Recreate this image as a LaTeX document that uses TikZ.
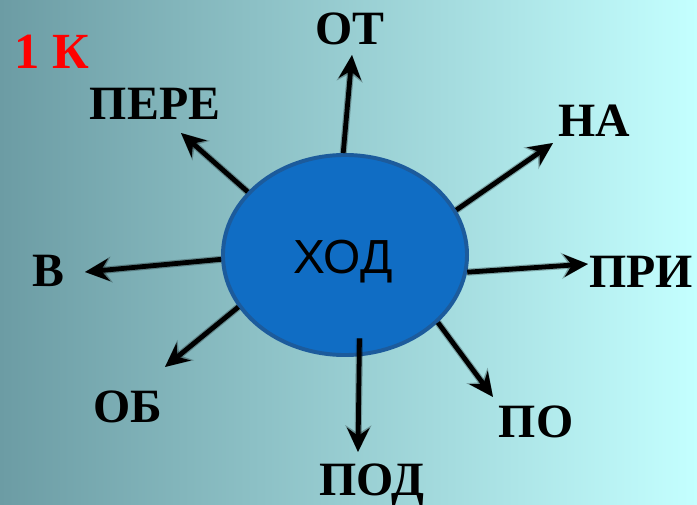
\documentclass[tikz,border=0pt]{standalone}
\usepackage{fontspec}
\setmainfont{Liberation Serif}
\newfontfamily\hodfont{Liberation Sans}
\usetikzlibrary{arrows.meta,shapes.geometric}

\definecolor{bgleft}{HTML}{6C9CA4}
\definecolor{bgright}{HTML}{C4FFFF}
\definecolor{hodfill}{HTML}{106DC4}
\definecolor{hodline}{HTML}{1C5B9C}

\tikzset{
	lbl/.style={font=\bfseries\fontsize{34}{34}\selectfont, anchor=base, inner sep=0pt},
	arr/.style={line width=3.4pt, -{Stealth[length=6mm,width=5.6mm,inset=2mm]}},
	shd/.style={line width=5pt, black, opacity=0.15, -{Stealth[length=6.6mm,width=6.4mm,inset=2mm]}}
}

\begin{document}
\begin{tikzpicture}[x=0.025cm,y=-0.025cm]
		
		\fill[left color=bgleft, right color=bgright] (0,0) rectangle (697,505);
		\useasboundingbox (0,0) rectangle (697,505);
		
		\node[ellipse, draw=hodline, line width=2.8pt, fill=hodfill, minimum width=61mm, minimum height=50mm] (hod) at (345,255) {};
		\node[font=\hodfont\fontsize{34}{34}\selectfont, anchor=base, inner sep=0pt] (hodtxt) at (343,273) {ХОД};
		
		\node[lbl, text=red, font=\bfseries\fontsize{36}{36}\selectfont] (k1) at (52,69) {1 К};
		
		\node[lbl] (ot) at (350,45) {ОТ};
		\node[lbl] (na) at (594,137) {НА};
		\node[lbl] (pri) at (641,287) {ПРИ};
		\node[lbl] (po) at (536,437) {ПО};
		\node[lbl] (pod) at (372,495) {ПОД};
		\node[lbl] (ob) at (128,422) {ОБ};
		\node[lbl] (v) at (48,286) {В};
		\node[lbl] (pere) at (155,120) {ПЕРЕ};
		
		\coordinate (tot) at (352,55);
		\coordinate (tna) at (553,143);
		\coordinate (tpri) at (588,264);
		\coordinate (tpo) at (493,397);
		\coordinate (tpod) at (358,452);
		\coordinate (tob) at (165,367);
		\coordinate (tv) at (85,272);
		\coordinate (tpere) at (181,133);
		
		\foreach \dx/\dy in {2/3,4/5}{
		\begin{scope}[shift={(\dx,\dy)}]
		\draw[shd] (hod.91) -- (tot);
		\draw[shd] (hod.22) -- (tna);
		\draw[shd] (hod.-8.5) -- (tpri);
		\draw[shd] (hod.-36.4) -- (tpo);
		\draw[shd, shorten <=-4.5mm] (hod.-82) -- (tpod);
		\draw[shd] (hod.206.3) -- (tob);
		\draw[shd] (hod.182.3) -- (tv);
		\draw[shd] (hod.147.8) -- (tpere);
		\end{scope}
		}
		
		\draw[arr] (hod.91) -- (tot);
		\draw[arr] (hod.22) -- (tna);
		\draw[arr] (hod.-8.5) -- (tpri);
		\draw[arr] (hod.-36.4) -- (tpo);
		\draw[arr, shorten <=-4.5mm] (hod.-82) -- (tpod);
		\draw[arr] (hod.206.3) -- (tob);
		\draw[arr] (hod.182.3) -- (tv);
		\draw[arr] (hod.147.8) -- (tpere);
		\end{tikzpicture}
\end{document}
